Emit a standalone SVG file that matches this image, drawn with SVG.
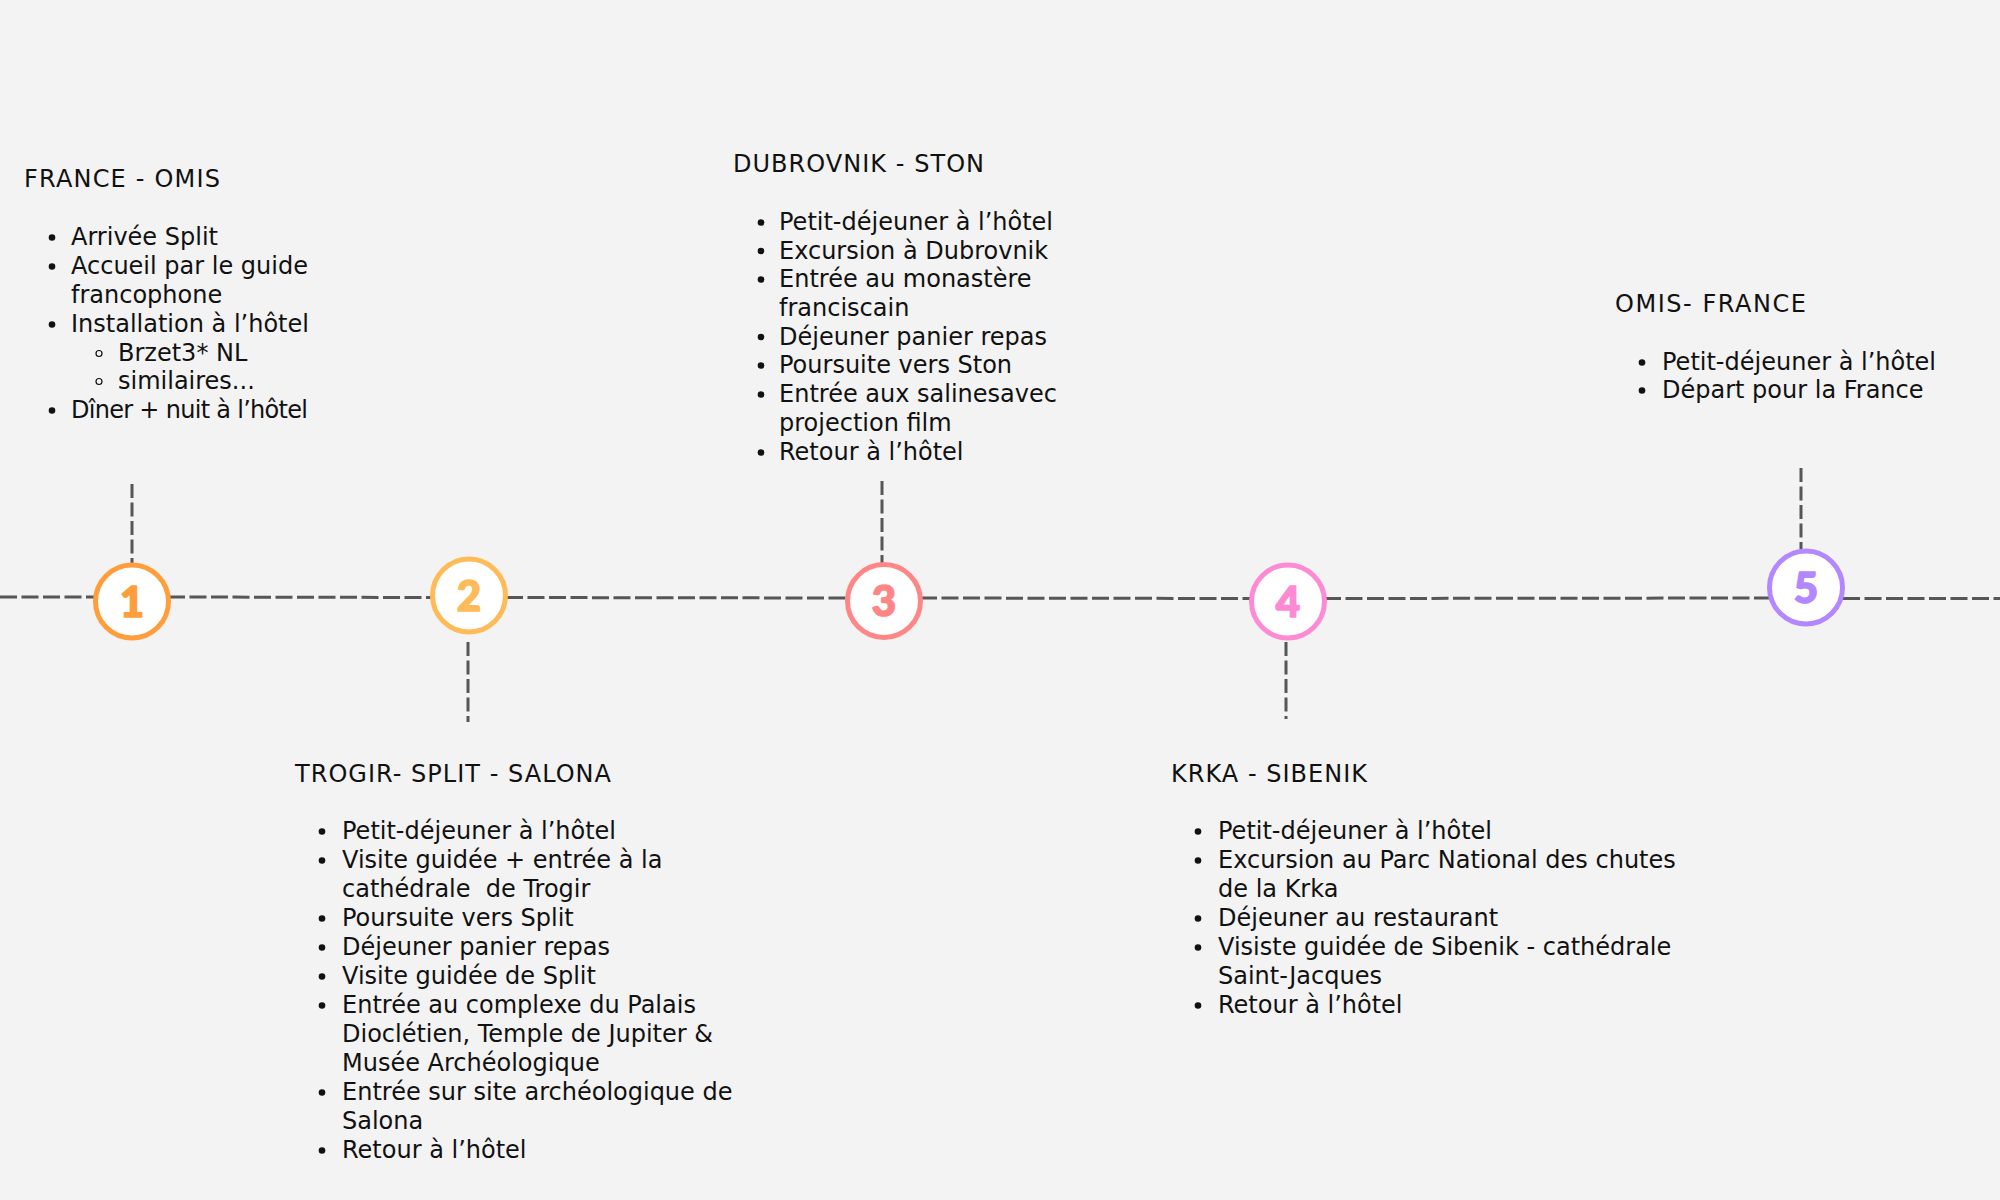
<svg xmlns="http://www.w3.org/2000/svg" width="2000" height="1200" viewBox="0 0 2000 1200">
  <style>
    .bg { fill: #F3F3F3; }
    .dash-h { fill: none; stroke: #565656; stroke-width: 3; stroke-dasharray: 17 4.5; }
    .dash-v { fill: none; stroke: #565656; stroke-width: 3; stroke-dasharray: 14 4.5; }
    .ring { fill: #FFFFFF; stroke-width: 5; }
    .num { font-family: "Lato", "Liberation Sans", sans-serif; font-weight: 900; font-size: 42px; text-anchor: middle; stroke-width: 1.6; stroke-linejoin: round; }
    .title { font-family: "DejaVu Sans", "Liberation Sans", sans-serif; font-size: 24px; fill: #111111; }
    .item { font-family: "DejaVu Sans", "Liberation Sans", sans-serif; font-size: 24px; fill: #111111; }
    .dot { fill: #111111; }
    .sub { fill: none; stroke: #111111; stroke-width: 1.2; }
  </style>
  <rect class="bg" x="0" y="0" width="2000" height="1200"/>

  <g id="connectors">
    <line class="dash-h" x1="0" y1="597" x2="96" y2="597"/>
    <line class="dash-h" x1="168" y1="597" x2="433" y2="597.5"/>
    <line class="dash-h" x1="506" y1="597.5" x2="847" y2="598"/>
    <line class="dash-h" x1="920" y1="598" x2="1252" y2="598.5"/>
    <line class="dash-h" x1="1324" y1="598.5" x2="1770" y2="598"/>
    <line class="dash-h" x1="1843" y1="598.5" x2="2000" y2="598.5"/>
    <line class="dash-v" x1="132" y1="484" x2="132" y2="563"/>
    <line class="dash-v" x1="468" y1="642" x2="468" y2="722"/>
    <line class="dash-v" x1="882" y1="481" x2="882" y2="563"/>
    <line class="dash-v" x1="1286" y1="642" x2="1286" y2="719"/>
    <line class="dash-v" x1="1801" y1="468" x2="1801" y2="549"/>
  </g>

  <g id="node-1">
    <circle class="ring" cx="132" cy="601.5" r="36.5" stroke="#FF9E3B"/>
    <text class="num" x="132" y="616.5" fill="#FF9E3B" stroke="#FF9E3B">1</text>
  </g>
  <g id="node-2">
    <circle class="ring" cx="469" cy="595.5" r="36.5" stroke="#FFBB57"/>
    <text class="num" x="469" y="610.5" fill="#FFBB57" stroke="#FFBB57">2</text>
  </g>
  <g id="node-3">
    <circle class="ring" cx="884" cy="601" r="36.5" stroke="#FF8686"/>
    <text class="num" x="884" y="616" fill="#FF8686" stroke="#FF8686">3</text>
  </g>
  <g id="node-4">
    <circle class="ring" cx="1288" cy="601.5" r="36.5" stroke="#FF8AD4"/>
    <text class="num" x="1288" y="616.5" fill="#FF8AD4" stroke="#FF8AD4">4</text>
  </g>
  <g id="node-5">
    <circle class="ring" cx="1806" cy="587.5" r="36.5" stroke="#B287FF"/>
    <text class="num" x="1806" y="602.5" fill="#B287FF" stroke="#B287FF">5</text>
  </g>

  <g id="label-1">
    <text class="title" x="24" y="187" textLength="196" lengthAdjust="spacing">FRANCE - OMIS</text>
    <circle class="dot" cx="52" cy="237.5" r="3.3"/>
    <text class="item" x="71" y="245">Arrivée Split</text>
    <circle class="dot" cx="52" cy="266.5" r="3.3"/>
    <text class="item" x="71" y="274">Accueil par le guide</text>
    <text class="item" x="71" y="303">francophone</text>
    <circle class="dot" cx="52" cy="324.5" r="3.3"/>
    <text class="item" x="71" y="332">Installation à l’hôtel</text>
    <circle class="sub" cx="99" cy="353.5" r="3"/>
    <text class="item" x="118" y="361">Brzet3* NL</text>
    <circle class="sub" cx="99" cy="381.5" r="3"/>
    <text class="item" x="118" y="389">similaires...</text>
    <circle class="dot" cx="52" cy="410.5" r="3.3"/>
    <text class="item" x="71" y="418" textLength="237" lengthAdjust="spacing">Dîner + nuit à l’hôtel</text>
  </g>

  <g id="label-2">
    <text class="title" x="295" y="782" textLength="316" lengthAdjust="spacing">TROGIR- SPLIT - SALONA</text>
    <circle class="dot" cx="322" cy="831.5" r="3.3"/>
    <text class="item" x="342" y="839">Petit-déjeuner à l’hôtel</text>
    <circle class="dot" cx="322" cy="860.5" r="3.3"/>
    <text class="item" x="342" y="868">Visite guidée + entrée à la</text>
    <text class="item" x="342" y="897" xml:space="preserve">cathédrale  de Trogir</text>
    <circle class="dot" cx="322" cy="918.5" r="3.3"/>
    <text class="item" x="342" y="926">Poursuite vers Split</text>
    <circle class="dot" cx="322" cy="947.5" r="3.3"/>
    <text class="item" x="342" y="955">Déjeuner panier repas</text>
    <circle class="dot" cx="322" cy="976.5" r="3.3"/>
    <text class="item" x="342" y="984">Visite guidée de Split</text>
    <circle class="dot" cx="322" cy="1005.5" r="3.3"/>
    <text class="item" x="342" y="1013">Entrée au complexe du Palais</text>
    <text class="item" x="342" y="1042">Dioclétien, Temple de Jupiter &amp;</text>
    <text class="item" x="342" y="1071">Musée Archéologique</text>
    <circle class="dot" cx="322" cy="1092.5" r="3.3"/>
    <text class="item" x="342" y="1100">Entrée sur site archéologique de</text>
    <text class="item" x="342" y="1129">Salona</text>
    <circle class="dot" cx="322" cy="1150.5" r="3.3"/>
    <text class="item" x="342" y="1158">Retour à l’hôtel</text>
  </g>

  <g id="label-3">
    <text class="title" x="733" y="172" textLength="251" lengthAdjust="spacing">DUBROVNIK - STON</text>
    <circle class="dot" cx="761" cy="222.5" r="3.3"/>
    <text class="item" x="779" y="230">Petit-déjeuner à l’hôtel</text>
    <circle class="dot" cx="761" cy="251" r="3.3"/>
    <text class="item" x="779" y="258.5">Excursion à Dubrovnik</text>
    <circle class="dot" cx="761" cy="279.5" r="3.3"/>
    <text class="item" x="779" y="287">Entrée au monastère</text>
    <text class="item" x="779" y="316">franciscain</text>
    <circle class="dot" cx="761" cy="337" r="3.3"/>
    <text class="item" x="779" y="344.5">Déjeuner panier repas</text>
    <circle class="dot" cx="761" cy="365.5" r="3.3"/>
    <text class="item" x="779" y="373">Poursuite vers Ston</text>
    <circle class="dot" cx="761" cy="394.5" r="3.3"/>
    <text class="item" x="779" y="402">Entrée aux salinesavec</text>
    <text class="item" x="779" y="431">projection film</text>
    <circle class="dot" cx="761" cy="452.5" r="3.3"/>
    <text class="item" x="779" y="460">Retour à l’hôtel</text>
  </g>

  <g id="label-4">
    <text class="title" x="1171" y="782" textLength="196" lengthAdjust="spacing">KRKA - SIBENIK</text>
    <circle class="dot" cx="1198" cy="831.5" r="3.3"/>
    <text class="item" x="1218" y="839">Petit-déjeuner à l’hôtel</text>
    <circle class="dot" cx="1198" cy="860.5" r="3.3"/>
    <text class="item" x="1218" y="868">Excursion au Parc National des chutes</text>
    <text class="item" x="1218" y="897">de la Krka</text>
    <circle class="dot" cx="1198" cy="918.5" r="3.3"/>
    <text class="item" x="1218" y="926">Déjeuner au restaurant</text>
    <circle class="dot" cx="1198" cy="947.5" r="3.3"/>
    <text class="item" x="1218" y="955">Visiste guidée de Sibenik - cathédrale</text>
    <text class="item" x="1218" y="984">Saint-Jacques</text>
    <circle class="dot" cx="1198" cy="1005.5" r="3.3"/>
    <text class="item" x="1218" y="1013">Retour à l’hôtel</text>
  </g>

  <g id="label-5">
    <text class="title" x="1615" y="312" textLength="191" lengthAdjust="spacing">OMIS- FRANCE</text>
    <circle class="dot" cx="1642" cy="362.5" r="3.3"/>
    <text class="item" x="1662" y="370">Petit-déjeuner à l’hôtel</text>
    <circle class="dot" cx="1642" cy="390.5" r="3.3"/>
    <text class="item" x="1662" y="398">Départ pour la France</text>
  </g>
</svg>
